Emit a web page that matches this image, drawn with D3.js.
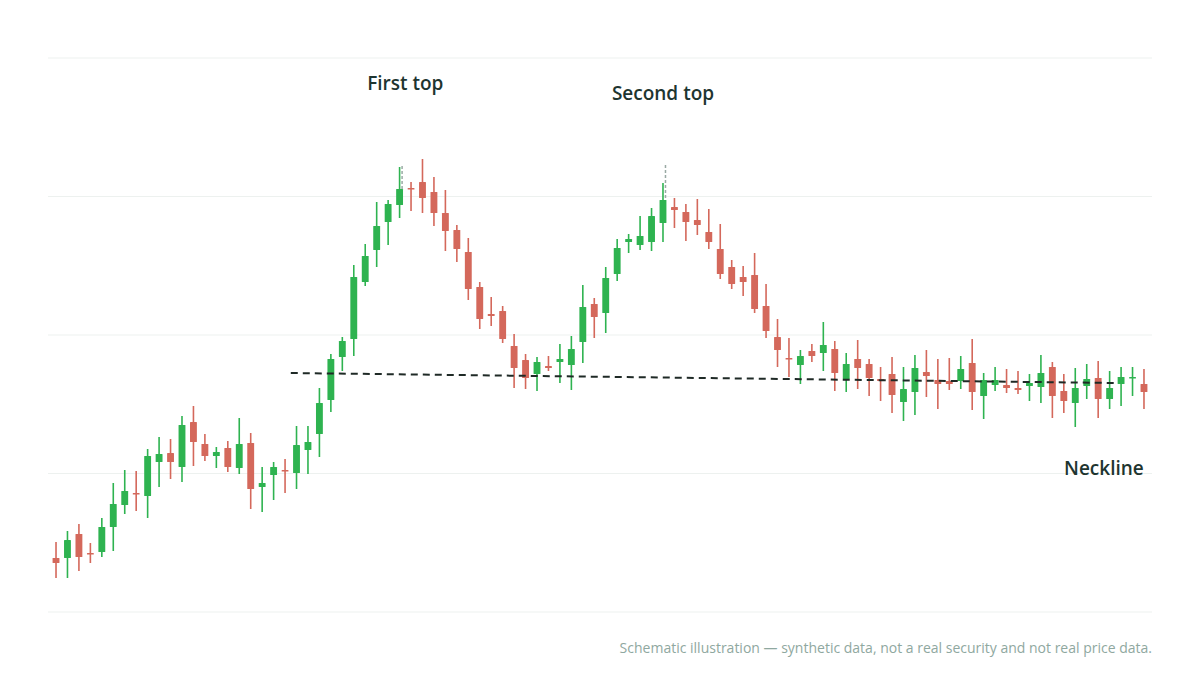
<!DOCTYPE html>
<html><head><meta charset="utf-8">
<script src="https://cdn.jsdelivr.net/npm/d3@7"></script>
<style>body{margin:0;background:#fff;font-family:"Open Sans","Noto Sans",sans-serif}</style>
</head><body><svg id="c" width="1200" height="675"></svg>
<script>
const opens  = [54,54,78,59,60,85,107,119,116,150,159,145,190,168,156,164,144,169,125,137,142,139,162,178,212,255,273,330,362,390,407,424,430,420,399,382,360,325,298,301,266,252,238,246,250,247,270,308,299,338,370,367,370,389,405,400,392,380,363,345,335,337,306,275,254,247,261,259,263,233,253,248,233,238,210,220,240,232,231,231,249,216,227,227,224,226,225,245,221,209,226,234,213,228,234,228];
const highs  = [70,81,88,69,94,129,142,141,163,175,173,196,206,178,165,171,194,179,145,150,153,186,186,224,258,275,347,368,410,412,445,430,453,435,422,387,374,330,315,306,278,258,255,256,268,276,327,314,345,373,378,396,404,429,414,408,413,403,388,352,346,359,328,293,274,262,268,290,271,259,272,253,245,255,245,257,262,253,254,256,273,239,245,243,241,238,257,250,238,244,248,251,241,245,245,243];
const lows   = [34,34,41,49,55,61,98,101,94,125,133,130,146,151,144,140,138,103,100,112,119,123,138,155,200,241,256,326,345,367,394,401,399,386,361,350,312,283,286,269,224,223,221,241,229,222,249,274,279,331,359,362,361,370,384,371,377,363,333,323,316,299,274,245,235,228,250,241,221,220,223,216,211,199,191,197,215,203,222,223,202,193,221,219,218,211,209,194,199,185,213,194,203,206,216,203];
const closes = [49,72,55,58,85,108,121,118,156,158,150,187,170,156,160,145,168,123,129,145,141,167,170,209,253,271,335,356,386,408,423,423,414,399,381,363,323,293,296,273,244,234,250,244,253,263,305,295,334,364,373,376,396,412,402,390,387,370,338,328,330,303,281,262,253,256,256,267,239,248,244,234,231,217,223,244,236,228,228,243,220,232,232,224,222,229,239,216,211,224,233,213,224,235,235,220];
const gridValues = [0,138.5,277,415.5,554];
const neckline = [[20.5,239],[92.5,229]];
const peakMarks = [[30,446,423],[53,447,412]];
const labels = [
  {text:"First top", i:30.5, v:527},
  {text:"Second top", i:53, v:517},
  {text:"Neckline", i:91.5, v:142}
];
const note = "Schematic illustration — synthetic data, not a real security and not real price data.";

const svg = d3.select("#c");
const idx = d3.range(opens.length);
const x = d3.scaleBand().domain(idx).range([48,1152]).padding(0.4);
const cx = i => x(0) + x.step()*i + x.bandwidth()/2;
const y = d3.scaleLinear().domain([0,554]).range([612,58]);
const GREEN="#2eb350", RED="#d4685b";

svg.append("g").selectAll("line").data(gridValues).join("line")
  .attr("x1",48).attr("x2",1152).attr("y1",d=>y(d)).attr("y2",d=>y(d))
  .attr("stroke","#edf1ef").attr("stroke-width",1);

const g = svg.append("g").selectAll("g").data(idx).join("g");
g.append("line").attr("x1",i=>cx(i)).attr("x2",i=>cx(i))
  .attr("y1",i=>y(highs[i])).attr("y2",i=>y(lows[i]))
  .attr("stroke",i=>closes[i]>=opens[i]?GREEN:RED).attr("stroke-width",1.6);
g.append("rect").attr("x",i=>x(i)).attr("width",x.bandwidth())
  .attr("y",i=>y(Math.max(opens[i],closes[i])))
  .attr("height",i=>Math.max(1.5,Math.abs(y(opens[i])-y(closes[i]))))
  .attr("fill",i=>closes[i]>=opens[i]?GREEN:RED).attr("rx",0.5);

svg.append("g").selectAll("line").data(peakMarks).join("line")
  .attr("x1",d=>cx(d[0])+2.5).attr("x2",d=>cx(d[0])+2.5)
  .attr("y1",d=>y(d[1])).attr("y2",d=>y(d[2]))
  .attr("stroke","#9aaaa4").attr("stroke-width",1.5).attr("stroke-dasharray","3,2");

svg.append("line")
  .attr("x1",cx(neckline[0][0])).attr("y1",y(neckline[0][1]))
  .attr("x2",cx(neckline[1][0])).attr("y2",y(neckline[1][1]))
  .attr("stroke","#1f2a26").attr("stroke-width",2).attr("stroke-dasharray","7,5");

svg.append("g").selectAll("text").data(labels).join("text")
  .attr("x",d=>cx(d.i)).attr("y",d=>y(d.v)).attr("text-anchor","middle")
  .attr("dominant-baseline","middle")
  .attr("font-size",19).attr("font-weight",600).attr("fill","#1e3530").text(d=>d.text);

svg.append("text").attr("x",1152).attr("y",653).attr("text-anchor","end")
  .attr("font-size",14).attr("fill","#8fa8a0").text(note);
</script></body></html>
